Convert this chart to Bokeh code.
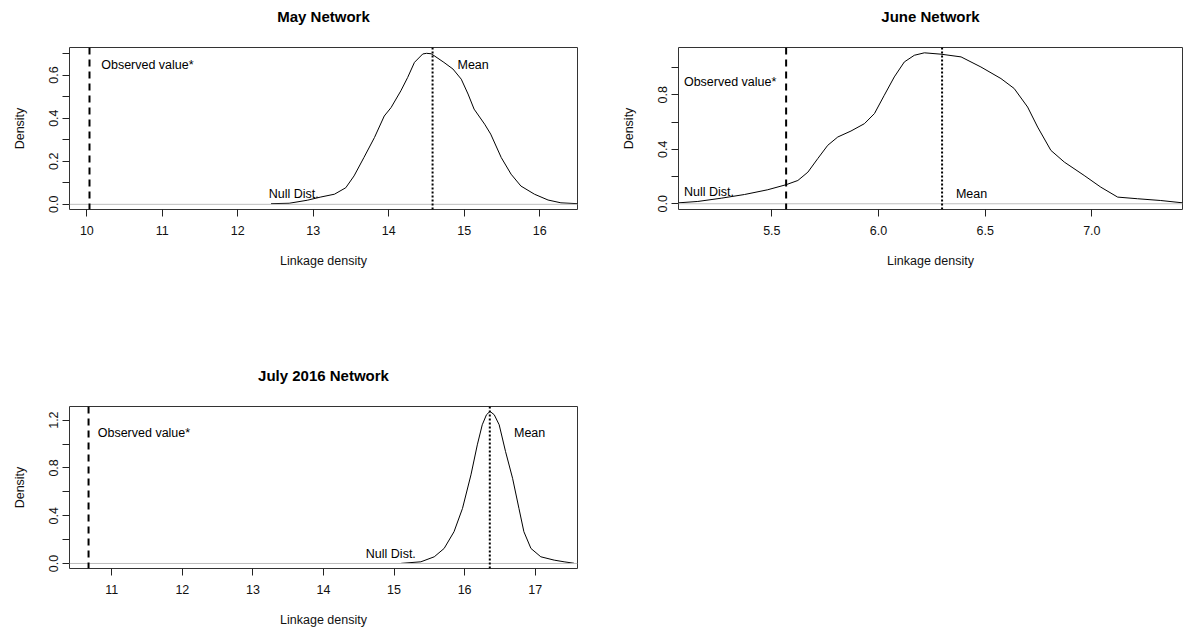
from bokeh.plotting import figure
from bokeh.models import Range1d, FixedTicker, Span, PrintfTickFormatter, Title
from bokeh.layouts import column, row
from bokeh.core.properties import value
from bokeh.embed import file_html
from bokeh.resources import INLINE

FONT = "Liberation Sans"

# ---------------- data ----------------
may_x = [12.44, 12.68, 12.92, 13.10, 13.28, 13.43, 13.54, 13.67, 13.81, 13.94, 14.03, 14.16,
         14.25, 14.34, 14.45, 14.50, 14.56, 14.60, 14.73, 14.85, 14.96, 15.05, 15.13, 15.27,
         15.35, 15.49, 15.62, 15.75, 15.93, 16.11, 16.28, 16.50]
may_y = [0.003, 0.005, 0.019, 0.034, 0.047, 0.077, 0.132, 0.217, 0.310, 0.410, 0.449, 0.527,
         0.589, 0.659, 0.698, 0.701, 0.699, 0.690, 0.659, 0.628, 0.581, 0.512, 0.442, 0.372,
         0.326, 0.217, 0.140, 0.085, 0.047, 0.020, 0.007, 0.003]
may_observed = 10.035
may_mean = 14.58

june_x = [5.063, 5.153, 5.263, 5.372, 5.481, 5.567, 5.622, 5.669, 5.715, 5.762, 5.809, 5.871,
          5.934, 5.981, 6.027, 6.074, 6.121, 6.168, 6.215, 6.293, 6.387, 6.480, 6.574, 6.636,
          6.699, 6.746, 6.808, 6.871, 6.964, 7.042, 7.121, 7.214, 7.323, 7.425]
june_y = [0.007, 0.017, 0.041, 0.068, 0.103, 0.140, 0.171, 0.232, 0.331, 0.429, 0.490, 0.534,
          0.588, 0.662, 0.796, 0.931, 1.041, 1.090, 1.108, 1.098, 1.078, 1.004, 0.919, 0.846,
          0.710, 0.563, 0.392, 0.306, 0.208, 0.122, 0.049, 0.037, 0.024, 0.007]
june_observed = 5.567
june_mean = 6.298

july_x = [15.10, 15.38, 15.57, 15.71, 15.85, 15.97, 16.09, 16.18, 16.25, 16.31, 16.36, 16.42,
          16.49, 16.58, 16.68, 16.77, 16.84, 16.94, 17.08, 17.27, 17.41, 17.55]
july_y = [0.001, 0.014, 0.056, 0.126, 0.266, 0.461, 0.742, 0.993, 1.161, 1.245, 1.273, 1.245,
          1.161, 0.937, 0.713, 0.461, 0.266, 0.126, 0.056, 0.028, 0.014, 0.002]
july_observed = 10.67
july_mean = 16.357

label_texts = ["Observed value*", "Mean", "Null Dist."]
may_label_x = [10.19, 14.91, 12.41]
may_label_y = [0.648, 0.648, 0.049]
june_label_x = [5.088, 6.363, 5.088]
june_label_y = [0.894, 0.074, 0.085]
july_label_x = [10.80, 16.70, 14.60]
july_label_y = [1.09, 1.09, 0.076]

may_xticks = [10, 11, 12, 13, 14, 15, 16]
may_yticks = [0.0, 0.2, 0.4, 0.6]
may_yminor = [0.1, 0.3, 0.5, 0.7]
june_xticks = [5.5, 6.0, 6.5, 7.0]
june_yticks = [0.0, 0.4, 0.8]
june_yminor = [0.2, 0.6, 1.0]
july_xticks = [11, 12, 13, 14, 15, 16, 17]
july_yticks = [0.0, 0.4, 0.8, 1.2]
july_yminor = [0.2, 0.6, 1.0]

FRAME_H = 162


def panel(title, xs, ys, xr, yr, xticks, yticks, yminor, obs, mean, lx, ly,
          width, height, bl, br, bt, bb, xfmt=None):
    p = figure(width=width, height=height, x_range=Range1d(*xr), y_range=Range1d(*yr),
               output_backend="svg", toolbar_location=None, title_location=None,
               min_border_left=bl, min_border_right=br, min_border_top=bt, min_border_bottom=bb,
               background_fill_color="white", border_fill_color="white",
               outline_line_color="#333333", outline_line_width=1)
    tstyle = dict(align="center", text_font=FONT, text_font_size="15px",
                  text_font_style="bold", text_color="black")
    # blank spacer title next to the frame, real title above it
    p.add_layout(Title(text=" ", standoff=0, **tstyle), "above")
    p.add_layout(Title(text=title, standoff=7, **tstyle), "above")
    p.xgrid.visible = False
    p.ygrid.visible = False

    xa = p.xaxis[0]
    xa.ticker = FixedTicker(ticks=xticks, minor_ticks=[])
    if xfmt:
        xa.formatter = PrintfTickFormatter(format=xfmt)
    xa.axis_label = "Linkage density"
    ya = p.yaxis[0]
    ya.ticker = FixedTicker(ticks=yticks, minor_ticks=yminor)
    ya.formatter = PrintfTickFormatter(format="%.1f")
    ya.axis_label = "Density"
    ya.major_label_orientation = "vertical"
    for ax in (xa, ya):
        ax.axis_line_color = None
        ax.major_tick_in = 0
        ax.major_tick_out = 7
        ax.minor_tick_in = 0
        ax.minor_tick_out = 7
        ax.major_tick_line_color = "#222222"
        ax.minor_tick_line_color = "#222222"
        ax.major_label_text_font = FONT
        ax.major_label_text_font_size = "12.5px"
        ax.major_label_text_color = "#111111"
        ax.axis_label_text_font = FONT
        ax.axis_label_text_font_size = "12.5px"
        ax.axis_label_text_font_style = "normal"
        ax.axis_label_text_color = "#111111"
    xa.major_label_standoff = 9
    xa.axis_label_standoff = 16
    ya.major_label_standoff = 4
    ya.axis_label_standoff = 20

    p.add_layout(Span(location=0, dimension="width", line_color="#bebebe", line_width=1))
    p.line(xs, ys, line_color="black", line_width=1)
    p.add_layout(Span(location=obs, dimension="height", line_color="black",
                      line_width=2, line_dash="7 5"))
    p.add_layout(Span(location=mean, dimension="height", line_color="black",
                      line_width=2, line_dash="2 2"))
    p.text(x=lx, y=ly, text=label_texts, text_align="left", text_baseline="middle",
           text_font=value(FONT), text_font_size=value("12.5px"), text_color="black")
    return p


p1 = panel("May Network", may_x, may_y, (9.77, 16.5), (-0.024, 0.728),
           may_xticks, may_yticks, may_yminor, may_observed, may_mean,
           may_label_x, may_label_y, 618, 298, 69, 41, 47, 298 - 47 - FRAME_H)
p2 = panel("June Network", june_x, june_y, (5.0625, 7.425), (-0.042, 1.147),
           june_xticks, june_yticks, june_yminor, june_observed, june_mean,
           june_label_x, june_label_y, 566, 298, 59, 2, 47, 298 - 47 - FRAME_H, xfmt="%.1f")
p3 = panel("July 2016 Network", july_x, july_y, (10.40, 17.60), (-0.042, 1.314),
           july_xticks, july_yticks, july_yminor, july_observed, july_mean,
           july_label_x, july_label_y, 618, 335, 69, 41, 108, 335 - 108 - FRAME_H)

layout = column(row(p1, p2), p3)
open("out.html", "w").write(file_html(layout, INLINE))
